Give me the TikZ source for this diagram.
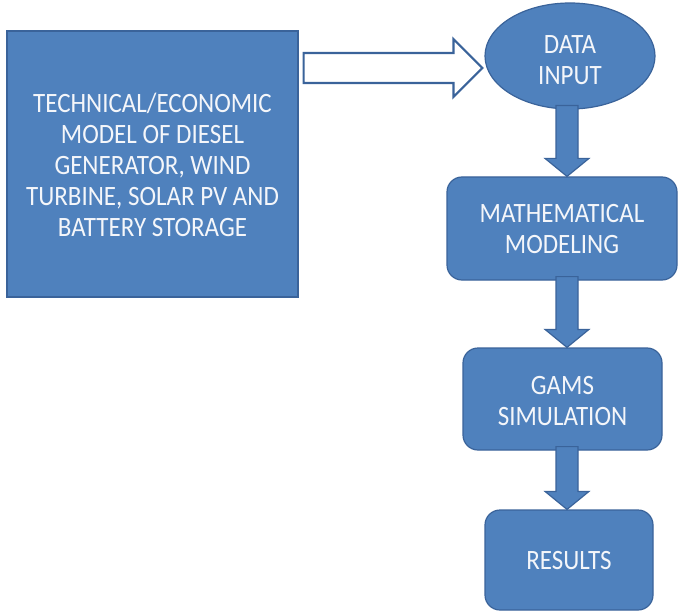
\documentclass[tikz,border=0pt]{standalone}
\usepackage{graphicx}
\usepackage{fontspec}
\setmainfont{Carlito}
\usetikzlibrary{shapes.geometric,calc}
\definecolor{boxfill}{HTML}{4F81BD}
\definecolor{boxline}{HTML}{3A639A}
\definecolor{labeltext}{HTML}{F4F6FA}
% labels are set a little taller than the plain font and sit slightly low
\newcommand\tallt[2][4pt]{\raisebox{-#1}[\height][\depth]{%
  \scalebox{1}[1.12]{\begin{tabular}{@{}c@{}}#2\end{tabular}}}}
\tikzset{
  blk/.style={draw=boxline, line width=1.2pt, fill=boxfill, text=labeltext,
    font=\fontsize{25}{27.6}\selectfont, align=center, inner sep=0pt},
  rbox/.style={blk, rounded corners=15pt},
  downarrow/.style={draw=boxline, line width=1.2pt, fill=boxfill, line join=miter},
  hollowarrow/.style={draw=boxline, line width=2.2pt, fill=white, line join=miter},
}
% block arrow pointing down from node #1 to node #2, centred on the (axis) column
\newcommand\flowdown[2]{%
  \path[downarrow] let \p1=(#1.south), \p2=(#2.north), \p3=(axis) in
    (\x3-11pt,\y1+4pt) -- (\x3+11pt,\y1+4pt) -- (\x3+11pt,\y2+18pt)
    -- (\x3+22pt,\y2+18pt) -- (\x3,\y2) -- (\x3-22pt,\y2+18pt)
    -- (\x3-11pt,\y2+18pt) -- cycle;}
\begin{document}
\begin{tikzpicture}[x=1pt,y=-1pt]
\useasboundingbox (0,0) rectangle (679,612);
\coordinate (axis) at (567,0);
\coordinate (feed) at (0,68);

\node[blk, minimum width=291pt, minimum height=266pt] (model) at (152.5,164)
  {\tallt{TECHNICAL/ECONOMIC\\MODEL OF DIESEL\\GENERATOR, WIND\\TURBINE, SOLAR PV AND\\BATTERY STORAGE}};
\node[blk, ellipse, minimum width=170pt, minimum height=106pt] (input) at (570,56) {\tallt[6.5pt]{DATA\\INPUT}};
\node[rbox, minimum width=230pt, minimum height=103pt] (math) at (562,228.5) {\tallt[3.5pt]{MATHEMATICAL\\MODELING}};
\node[rbox, minimum width=199pt, minimum height=102pt] (gams) at (562.5,399) {\tallt[5pt]{GAMS\\SIMULATION}};
\node[rbox, minimum width=168pt, minimum height=100pt] (res) at (569,560) {\tallt[3pt]{RESULTS}};

% hollow block arrow from the model box to the data input
\path[hollowarrow] let \p1=(model.east), \p2=(input.west), \p3=(feed) in
  (\x1+5pt,\y3+15pt) -- (\x2-31pt,\y3+15pt) -- (\x2-31pt,\y3+29pt)
  -- (\x2-2pt,\y3) -- (\x2-31pt,\y3-29pt) -- (\x2-31pt,\y3-15pt)
  -- (\x1+5pt,\y3-15pt) -- cycle;

\flowdown{input}{math}
\flowdown{math}{gams}
\flowdown{gams}{res}
\end{tikzpicture}
\end{document}
